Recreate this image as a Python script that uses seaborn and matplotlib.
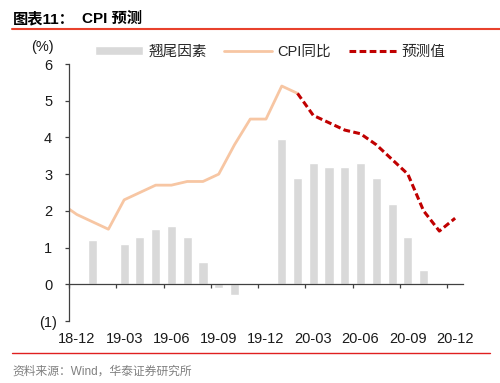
import numpy as np
import pandas as pd
import matplotlib
matplotlib.use("Agg")
import matplotlib.pyplot as plt
import seaborn as sns
from matplotlib.lines import Line2D

sns.set_theme(style="white")
plt.rcParams['font.family'] = ['Liberation Sans', 'Noto Sans CJK SC', 'DejaVu Sans']

# 月份 18-12 .. 20-12
months = ['18-12', '19-01', '19-02', '19-03', '19-04', '19-05', '19-06', '19-07', '19-08',
          '19-09', '19-10', '19-11', '19-12', '20-01', '20-02', '20-03', '20-04', '20-05',
          '20-06', '20-07', '20-08', '20-09', '20-10', '20-11', '20-12']
tick_labels = ['18-12', '19-03', '19-06', '19-09', '19-12', '20-03', '20-06', '20-09', '20-12']

# 翘尾因素
tail = [np.nan, 1.2, np.nan, 1.1, 1.3, 1.5, 1.6, 1.3, 0.6, -0.1, -0.3, np.nan, np.nan,
        3.95, 2.9, 3.3, 3.2, 3.2, 3.3, 2.9, 2.2, 1.3, 0.4, np.nan, np.nan]

# CPI同比 18-11 .. 20-02
cpi_months = ['18-11'] + months[:15]
cpi = [2.2, 1.9, 1.7, 1.5, 2.3, 2.5, 2.7, 2.7, 2.8, 2.8, 3.0, 3.8, 4.5, 4.5, 5.4, 5.2]

# 预测值 20-02 .. 20-12
fc_months = months[14:]
forecast = [5.2, 4.6, 4.4, 4.2, 4.1, 3.8, 3.4, 3.0, 2.0, 1.45, 1.8]

pos = {m: i for i, m in enumerate(months)}
pos['18-11'] = -1

df_bar = pd.DataFrame({'x': [pos[m] for m in months], 'v': tail}).dropna()
df_cpi = pd.DataFrame({'x': [pos[m] for m in cpi_months], 'v': cpi})
df_fc = pd.DataFrame({'x': [pos[m] for m in fc_months], 'v': forecast})

fig = plt.figure(figsize=(5, 3.83), dpi=100)
ax = fig.add_axes([69 / 500, 1 - 321 / 383, (463 - 69) / 500, (321 - 64) / 383])

sns.barplot(data=df_bar, x='x', y='v', native_scale=True, color='#D9D9D9',
            saturation=1, width=0.58, errorbar=None, ax=ax, label='翘尾因素')
sns.lineplot(data=df_cpi, x='x', y='v', color='#F7C6A3', linewidth=2.0, ax=ax,
             label='CPI同比')
sns.lineplot(data=df_fc, x='x', y='v', color='#C00000', linewidth=2.2, ax=ax,
             linestyle=(0, (2.2, 1.1)), label='预测值')

ax.set_xlim(-0.5, 24.5)
ax.set_ylim(-1, 6)
ax.set_xlabel('')
ax.set_ylabel('')

for s in ['top', 'right']:
    ax.spines[s].set_visible(False)
ax.spines['bottom'].set_position(('data', 0))
for s in ['left', 'bottom']:
    ax.spines[s].set_color('#404040')
    ax.spines[s].set_linewidth(0.9)

ax.set_xticks([pos[m] for m in tick_labels])
ax.set_xticklabels(tick_labels, fontsize=10.5, color='#1a1a1a')
ax.set_xticks(np.arange(-0.5, 24, 3), minor=True)
ax.tick_params(axis='x', which='major', length=0, pad=34)
ax.tick_params(axis='x', which='minor', bottom=True, length=3, width=0.9, color='#404040',
               direction='out')

ax.set_yticks(range(-1, 7))
ax.set_yticklabels(['(1)', '0', '1', '2', '3', '4', '5', '6'], fontsize=10.5, color='#1a1a1a')
ax.tick_params(axis='y', left=True, length=3, width=0.9, color='#404040', direction='out',
               pad=12)
for t in ax.get_yticklabels():
    t.set_horizontalalignment('center')

fig.text(42 / 500, 1 - 47 / 383, '(%)', fontsize=10.5, ha='center', va='center',
         color='#1a1a1a')

ax.get_legend().remove()
handles, labels = ax.get_legend_handles_labels()
order = [labels.index(k) for k in ['翘尾因素', 'CPI同比', '预测值']]
fig.legend([handles[i] for i in order], [labels[i] for i in order],
           loc='center left', bbox_to_anchor=(95 / 500, 1 - 52 / 383),
           ncol=3, frameon=False, fontsize=10.5, handlelength=3.3, handleheight=0.55,
           handletextpad=0.35, columnspacing=1.2, borderpad=0, borderaxespad=0)

# 标题
fig.text(13 / 500, 1 - 19 / 383, '图表11：', fontsize=11, fontweight='bold',
         ha='left', va='center', color='#000000')
fig.text(82 / 500, 1 - 19 / 383, 'CPI 预测', fontsize=11, fontweight='bold',
         ha='left', va='center', color='#000000')
fig.add_artist(Line2D([12 / 500, 1.0], [1 - 29 / 383] * 2, color='#E8412C', linewidth=1.5,
                      transform=fig.transFigure))
fig.add_artist(Line2D([12 / 500, 490 / 500], [1 - 353 / 383] * 2, color='#E02020',
                      linewidth=1.0, transform=fig.transFigure))
fig.text(12 / 500, 1 - 372 / 383, '资料来源：Wind，华泰证券研究所', fontsize=8.5,
         ha='left', va='center', color='#808080')

fig.savefig('out.png', dpi=100)
